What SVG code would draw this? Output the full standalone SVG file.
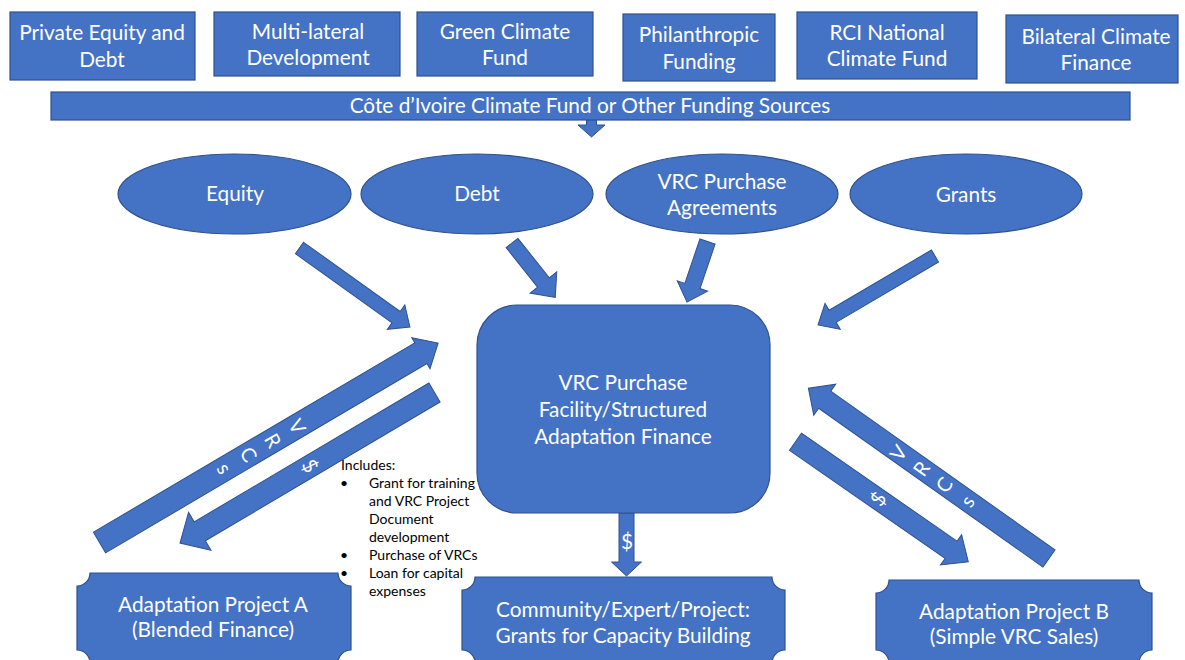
<svg xmlns="http://www.w3.org/2000/svg" width="1185" height="660" viewBox="0 0 1185 660">
  <style>
    .box { fill: #4472C4; stroke: #2F528F; stroke-width: 1.2; }
    .arrow { fill: #4472C4; stroke: #2F528F; stroke-width: 1; stroke-linejoin: miter; }
    .lbl { font-family: Lato, "Open Sans", "Liberation Sans", sans-serif; font-size: 20.8px; fill: #FFFFFF; text-anchor: middle; }
    .stack { font-family: Lato, "Open Sans", "Liberation Sans", sans-serif; font-size: 20px; fill: #FFFFFF; text-anchor: middle; }
    .note { font-family: Lato, "Open Sans", "Liberation Sans", sans-serif; font-size: 14px; fill: #000000; }
  </style>
  <rect width="1185" height="660" fill="#FFFFFF"/>

  <!-- funding sources -->
  <g id="src-private-equity">
    <rect class="box" x="10" y="12" width="185" height="68"/>
    <text class="lbl" x="102" y="40">Private Equity and</text>
    <text class="lbl" x="102" y="67">Debt</text>
  </g>
  <g id="src-multilateral">
    <rect class="box" x="214" y="12" width="186" height="64"/>
    <text class="lbl" x="308" y="39">Multi-lateral</text>
    <text class="lbl" x="308" y="65">Development</text>
  </g>
  <g id="src-gcf">
    <rect class="box" x="417" y="12" width="176" height="64"/>
    <text class="lbl" x="505" y="39">Green Climate</text>
    <text class="lbl" x="505" y="65">Fund</text>
  </g>
  <g id="src-philanthropic">
    <rect class="box" x="623" y="14" width="152" height="67"/>
    <text class="lbl" x="699" y="42">Philanthropic</text>
    <text class="lbl" x="699" y="69">Funding</text>
  </g>
  <g id="src-rci">
    <rect class="box" x="797" y="12" width="180" height="67"/>
    <text class="lbl" x="887" y="40">RCI National</text>
    <text class="lbl" x="887" y="66">Climate Fund</text>
  </g>
  <g id="src-bilateral">
    <rect class="box" x="1006" y="15" width="172" height="68"/>
    <text class="lbl" x="1096" y="44">Bilateral Climate</text>
    <text class="lbl" x="1096" y="70">Finance</text>
  </g>

  <!-- connectors -->
  <g id="connectors">
    <!-- pooled fund to instruments -->
    <polygon class="arrow" transform="translate(591.5,118) rotate(90)" points="0,-5 7,-5 7,-13.5 19,0 7,13.5 7,5 0,5"/>
    <!-- instruments to facility -->
    <polygon class="arrow" transform="translate(299.5,248) rotate(35.6)" points="0,-7 118.8,-7 118.8,-15 135.8,0 118.8,15 118.8,7 0,7"/>
    <polygon class="arrow" transform="translate(512,243) rotate(51.5)" points="0,-7.5 50.5,-7.5 50.5,-17 69.5,0 50.5,17 50.5,7.5 0,7.5"/>
    <polygon class="arrow" transform="translate(707.5,241.5) rotate(108.7)" points="0,-8 47,-8 47,-16 64,0 47,16 47,8 0,8"/>
    <polygon class="arrow" transform="translate(935,256) rotate(149.5)" points="0,-7 118.8,-7 118.8,-15 135.8,0 118.8,15 118.8,7 0,7"/>
    <!-- project A exchanges -->
    <polygon class="arrow" transform="translate(99.5,542.5) rotate(-30.5)" points="0,-12 373,-12 373,-18 393,0 373,18 373,12 0,12"/>
    <polygon class="arrow" transform="translate(434.5,392.5) rotate(149.4)" points="0,-11 272.7,-11 272.7,-22 295.7,0 272.7,22 272.7,11 0,11"/>
    <!-- project B exchanges -->
    <polygon class="arrow" transform="translate(1049,558.5) rotate(-144.7)" points="0,-10.5 274.8,-10.5 274.8,-19 294.8,0 274.8,19 274.8,10.5 0,10.5"/>
    <polygon class="arrow" transform="translate(795.5,441.7) rotate(34.8)" points="0,-10.5 189.4,-10.5 189.4,-18.5 210.4,0 189.4,18.5 189.4,10.5 0,10.5"/>
    <!-- facility to capacity grants -->
    <polygon class="arrow" transform="translate(626.5,513) rotate(90)" points="0,-7.5 49,-7.5 49,-15 63,0 49,15 49,7.5 0,7.5"/>

    <!-- arrow captions -->
    <g transform="translate(260.5,447.6) rotate(60)">
      <text class="stack" x="0" y="-35">V</text>
      <text class="stack" x="0" y="-7">R</text>
      <text class="stack" x="0" y="21">C</text>
      <text class="stack" x="0" y="49">s</text>
    </g>
    <g transform="translate(310,466) rotate(60)">
      <text class="stack" x="0" y="7">$</text>
    </g>
    <g transform="translate(933,477) rotate(-55)">
      <text class="stack" x="0" y="-35">V</text>
      <text class="stack" x="0" y="-7">R</text>
      <text class="stack" x="0" y="21">C</text>
      <text class="stack" x="0" y="49">s</text>
    </g>
    <g transform="translate(878.3,499) rotate(-55)">
      <text class="stack" x="0" y="7">$</text>
    </g>
    <text class="lbl" x="627" y="549">$</text>
  </g>

  <g id="pooled-fund">
    <rect class="box" x="51" y="92" width="1079" height="28"/>
    <text class="lbl" x="590" y="113">Côte d’Ivoire Climate Fund or Other Funding Sources</text>
  </g>

  <!-- financing instruments -->
  <g id="inst-equity">
    <ellipse class="box" cx="234.5" cy="194" rx="116.5" ry="40"/>
    <text class="lbl" x="235" y="201">Equity</text>
  </g>
  <g id="inst-debt">
    <ellipse class="box" cx="477" cy="194" rx="116" ry="40"/>
    <text class="lbl" x="477" y="201">Debt</text>
  </g>
  <g id="inst-vrc-agreements">
    <ellipse class="box" cx="722" cy="194" rx="116" ry="40"/>
    <text class="lbl" x="722" y="189">VRC Purchase</text>
    <text class="lbl" x="722" y="215">Agreements</text>
  </g>
  <g id="inst-grants">
    <ellipse class="box" cx="966" cy="194" rx="116" ry="40"/>
    <text class="lbl" x="966" y="202">Grants</text>
  </g>

  <!-- central facility -->
  <g id="facility">
    <rect class="box" x="477" y="305" width="293" height="208" rx="40" ry="40"/>
    <text class="lbl" x="623" y="390">VRC Purchase</text>
    <text class="lbl" x="623" y="417">Facility/Structured</text>
    <text class="lbl" x="623" y="444">Adaptation Finance</text>
  </g>

  <!-- notes on project A support -->
  <g id="includes-note">
    <text class="note" x="341" y="470">Includes:</text>
    <text class="note" x="340" y="488">•</text>
    <text class="note" x="369" y="488">Grant for training</text>
    <text class="note" x="369" y="506">and VRC Project</text>
    <text class="note" x="369" y="524">Document</text>
    <text class="note" x="369" y="542">development</text>
    <text class="note" x="340" y="560">•</text>
    <text class="note" x="369" y="560">Purchase of VRCs</text>
    <text class="note" x="340" y="578">•</text>
    <text class="note" x="369" y="578">Loan for capital</text>
    <text class="note" x="369" y="596">expenses</text>
  </g>

  <!-- recipients (plaque shapes) -->
  <g id="project-a">
    <path class="box" d="M90,573 L338,573 A13,13 0 0 0 351,586 L351,650 A13,13 0 0 0 338,663 L90,663 A13,13 0 0 0 77,650 L77,586 A13,13 0 0 0 90,573 Z"/>
    <text class="lbl" x="213" y="612">Adaptation Project A</text>
    <text class="lbl" x="213" y="637">(Blended Finance)</text>
  </g>
  <g id="capacity-grants">
    <path class="box" d="M475,577 L772,577 A13,13 0 0 0 785,590 L785,650 A13,13 0 0 0 772,663 L475,663 A13,13 0 0 0 462,650 L462,590 A13,13 0 0 0 475,577 Z"/>
    <text class="lbl" x="623" y="617">Community/Expert/Project:</text>
    <text class="lbl" x="623" y="643">Grants for Capacity Building</text>
  </g>
  <g id="project-b">
    <path class="box" d="M889,580 L1139,580 A13,13 0 0 0 1152,593 L1152,650 A13,13 0 0 0 1139,663 L889,663 A13,13 0 0 0 876,650 L876,593 A13,13 0 0 0 889,580 Z"/>
    <text class="lbl" x="1014" y="619">Adaptation Project B</text>
    <text class="lbl" x="1014" y="644">(Simple VRC Sales)</text>
  </g>
</svg>
